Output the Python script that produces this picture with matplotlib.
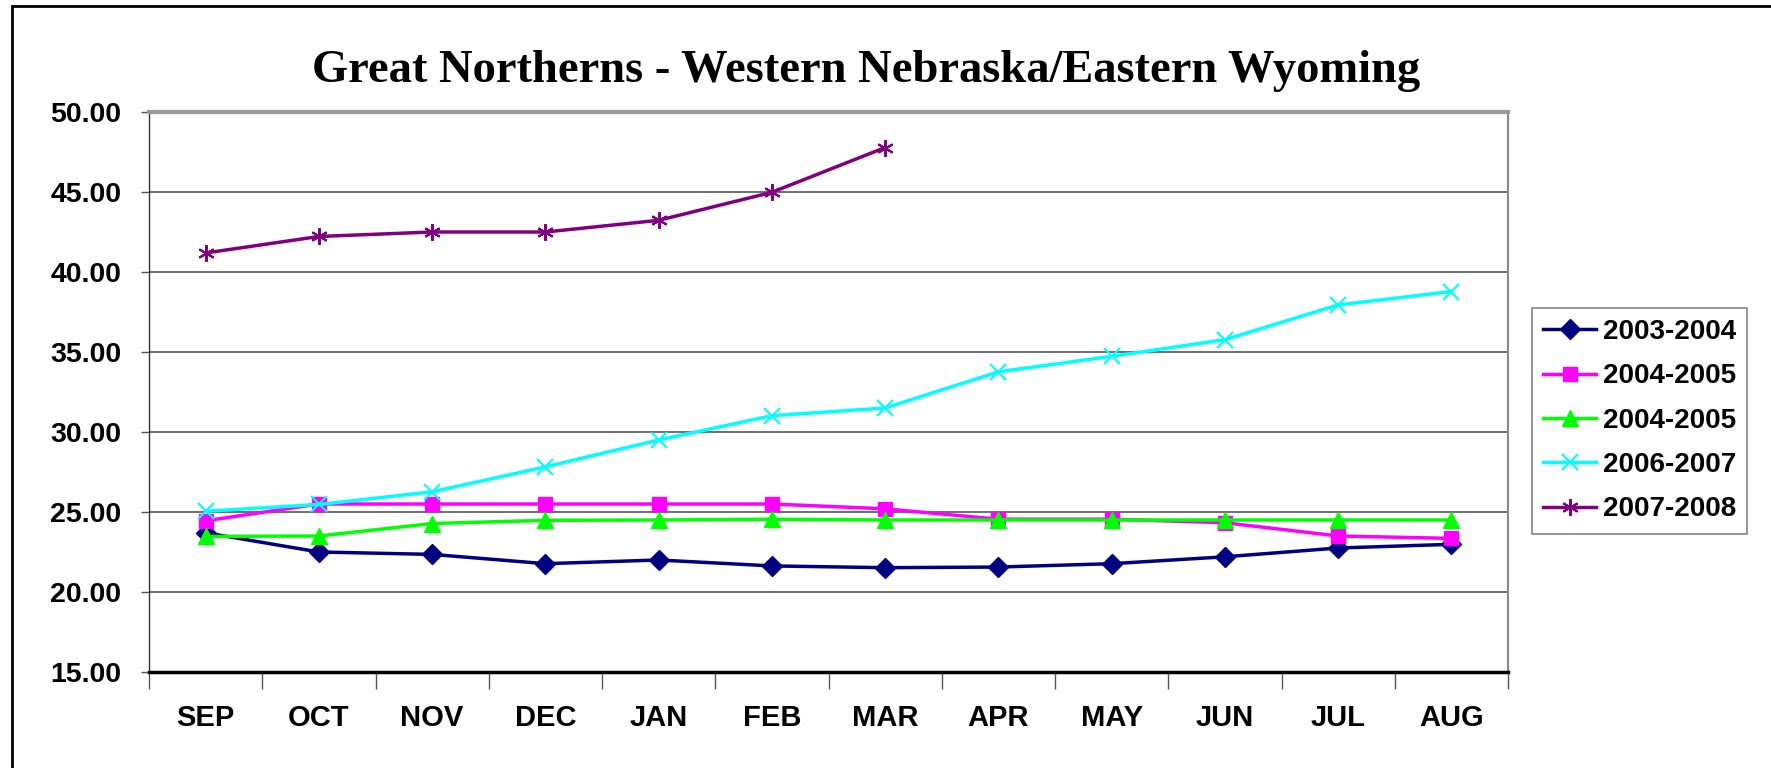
import matplotlib
matplotlib.use('Agg')
import matplotlib.pyplot as plt
from matplotlib.patches import Rectangle

months = ['SEP', 'OCT', 'NOV', 'DEC', 'JAN', 'FEB', 'MAR', 'APR', 'MAY', 'JUN', 'JUL', 'AUG']

s_2003_2004 = [23.7, 22.5, 22.35, 21.77, 22.0, 21.63, 21.52, 21.56, 21.77, 22.2, 22.75, 22.98]
s_2004_2005 = [24.45, 25.5, 25.5, 25.5, 25.5, 25.5, 25.2, 24.55, 24.55, 24.33, 23.5, 23.35]
s_2004_2005b = [23.47, 23.5, 24.28, 24.48, 24.5, 24.55, 24.5, 24.5, 24.5, 24.5, 24.5, 24.5]
s_2006_2007 = [25.05, 25.47, 26.26, 27.82, 29.5, 31.02, 31.5, 33.76, 34.73, 35.77, 37.94, 38.78]
s_2007_2008 = [41.19, 42.22, 42.5, 42.5, 43.23, 44.98, 47.78]

labels = ['2003-2004', '2004-2005', '2004-2005', '2006-2007', '2007-2008']

fig = plt.figure(figsize=(17.71, 7.68), dpi=100)
ax = fig.add_axes([149 / 1771, 1 - 672 / 768, (1508 - 149) / 1771, (672 - 112) / 768])

x = list(range(len(months)))
ax.plot(x, s_2003_2004, color='#000080', lw=2.5, marker='D', ms=10, label=labels[0])
ax.plot(x, s_2004_2005, color='#ff00ff', lw=2.5, marker='s', ms=10, label=labels[1])
ax.plot(x, s_2004_2005b, color='#00ff00', lw=2.5, marker='^', ms=11, label=labels[2])
ax.plot(x, s_2006_2007, color='#00ffff', lw=2.5, marker='x', ms=11, mew=1.5, label=labels[3])
ax.plot(x[:len(s_2007_2008)], s_2007_2008, color='#800080', lw=2.5,
        marker=(6, 2, 0), ms=12, mew=1.5, label=labels[4])

ax.set_xlim(-0.5, 11.5)
ax.set_ylim(15, 50)
ax.set_yticks(range(15, 51, 5))
ax.set_yticklabels(['%.2f' % v for v in range(15, 51, 5)])
ax.grid(axis='y', color='#555555', lw=1.2)
ax.set_axisbelow(True)

ax.set_xticks(x)
ax.set_xticklabels(months)
ax.set_xticks([i - 0.5 for i in range(13)], minor=True)
ax.tick_params(axis='x', which='major', length=0, pad=23)
ax.tick_params(axis='x', which='minor', length=12, width=1, color='#555555')
ax.tick_params(axis='y', length=6, width=1, pad=14, color='#555555')
for lab in ax.get_xticklabels():
    lab.set_fontfamily('Liberation Sans')
    lab.set_fontweight('bold')
    lab.set_fontsize(21)
for lab in ax.get_yticklabels():
    lab.set_fontfamily('Liberation Sans')
    lab.set_fontweight('bold')
    lab.set_fontsize(20.5)

ax.spines['top'].set_color('#999999')
ax.spines['top'].set_linewidth(3)
ax.spines['right'].set_color('#888888')
ax.spines['right'].set_linewidth(1.5)
ax.spines['left'].set_color('#333333')
ax.spines['left'].set_linewidth(1)
ax.spines['bottom'].set_color('black')
ax.spines['bottom'].set_linewidth(2.5)

fig.text(866 / 1771, 1 - 71 / 768, 'Great Northerns - Western Nebraska/Eastern Wyoming',
         ha='center', va='center', fontsize=33.5, fontweight='bold', family='Liberation Serif')

leg = fig.legend(loc='upper left', bbox_to_anchor=(1532 / 1771, 1 - 308 / 768),
                 prop={'family': 'Liberation Sans', 'weight': 'bold', 'size': 20},
                 frameon=True, fancybox=False, handlelength=1.9, handletextpad=0.25,
                 borderpad=0.4, labelspacing=0.66, borderaxespad=0)
leg.get_frame().set_edgecolor('#666666')
leg.get_frame().set_linewidth(1.2)

# outer chart border
fig.patches.append(Rectangle((12 / 1771, -0.1), 1.2, 1.1 - 6 / 768,
                             transform=fig.transFigure, fill=False, ec='black', lw=2))

fig.savefig('out.png', dpi=100)
